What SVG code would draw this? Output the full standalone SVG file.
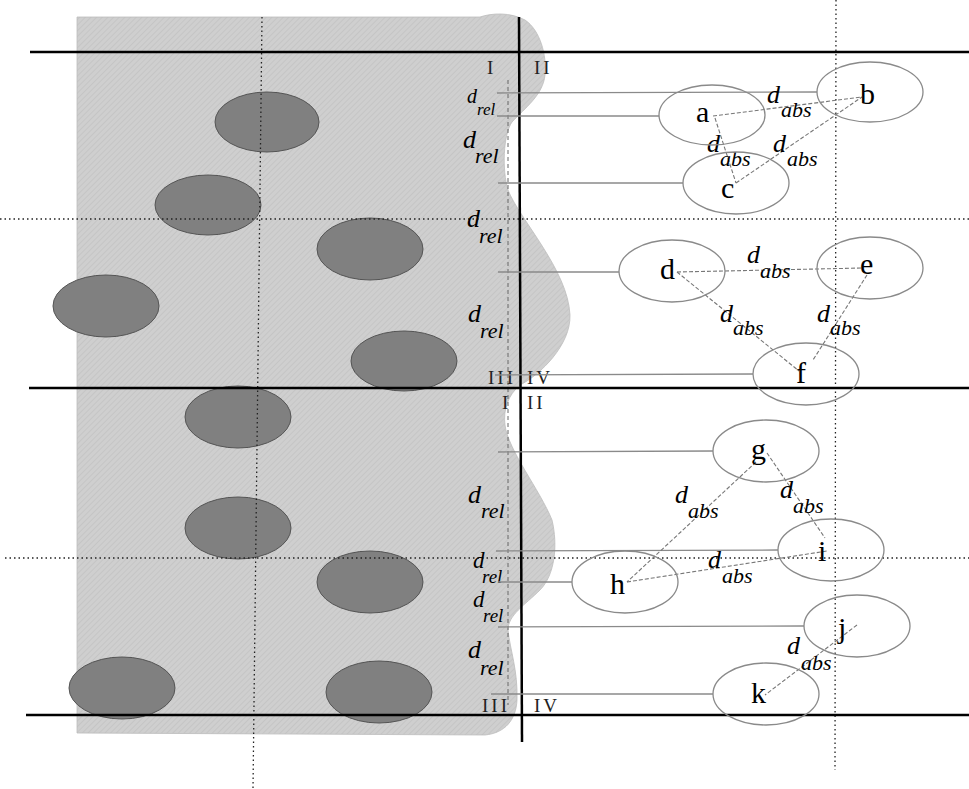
<svg xmlns="http://www.w3.org/2000/svg" width="969" height="789" viewBox="0 0 969 789">
<defs>
<pattern id="hatch" width="4" height="4" patternUnits="userSpaceOnUse" patternTransform="rotate(45)">
<rect width="4" height="4" fill="#cfcfcf"/>
<line x1="0" y1="0" x2="0" y2="4" stroke="#bdbdbd" stroke-width="1.1"/>
</pattern>
</defs>
<style>
.thick{stroke:#000;stroke-width:2.5;fill:none}
.dot{stroke:#222;stroke-width:1.3;stroke-dasharray:1.5 3;fill:none}
.lead{stroke:#8a8a8a;stroke-width:1.3;fill:none}
.vdash{stroke:#666;stroke-width:1;stroke-dasharray:4 3;fill:none}
.grain{fill:#808080;stroke:#555;stroke-width:1}
.node ellipse{fill:none;stroke:#8a8a8a;stroke-width:1.3}
.node text{font-family:"Liberation Serif","DejaVu Serif",serif;font-size:30px;fill:#000}
.dist{stroke:#777;stroke-width:1.1;stroke-dasharray:4 2;fill:none}
.lab{font-family:"Liberation Serif","DejaVu Serif",serif;font-style:italic;fill:#000}
.d{font-size:26px}
.s{font-size:22px}
.rom{font-family:"Liberation Serif","DejaVu Serif",serif;font-size:19px;fill:#222;letter-spacing:3px}
</style>

<g id="background">
<path d="M77 17 L480 17 C492 13 510 12 525 20 C540 30 547 55 545 75 C543 95 525 108 512 122 C503 135 502 170 508 190 C520 220 568 270 570 315 C571 345 540 375 520 385 C508 395 503 410 505 425 C508 450 540 490 552 520 C558 545 555 575 540 590 C525 605 508 615 508 630 C510 650 518 670 517 700 C516 720 505 733 485 735 L77 733 Z" fill="url(#hatch)" stroke="#bdbdbd" stroke-width="0.8"/>
<ellipse class="grain" cx="267" cy="122" rx="52" ry="30"/>
<ellipse class="grain" cx="208" cy="205" rx="53" ry="30"/>
<ellipse class="grain" cx="370" cy="249" rx="53" ry="31"/>
<ellipse class="grain" cx="106" cy="306" rx="53" ry="31"/>
<ellipse class="grain" cx="404" cy="361" rx="53" ry="30"/>
<ellipse class="grain" cx="238" cy="417" rx="53" ry="31"/>
<ellipse class="grain" cx="238" cy="528" rx="53" ry="31"/>
<ellipse class="grain" cx="370" cy="582" rx="53" ry="31"/>
<ellipse class="grain" cx="122" cy="688" rx="53" ry="31"/>
<ellipse class="grain" cx="379" cy="692" rx="53" ry="31"/>
<line class="dot" x1="262" y1="17" x2="253" y2="789"/>
<line class="dot" x1="836" y1="0" x2="835" y2="770"/>
<line class="dot" x1="0" y1="219" x2="969" y2="219"/>
<line class="dot" x1="5" y1="558" x2="969" y2="558"/>
<line class="vdash" x1="508" y1="80" x2="508" y2="705"/>
<line class="thick" x1="30" y1="52" x2="969" y2="52"/>
<line class="thick" x1="29" y1="388" x2="969" y2="388"/>
<line class="thick" x1="26" y1="715" x2="969" y2="715"/>
<line class="thick" x1="519" y1="17" x2="522" y2="742"/>
<text class="rom" x="487" y="74">I</text>
<text class="rom" x="534" y="74">II</text>
<text class="rom" x="488" y="384">III</text>
<text class="rom" x="527" y="384">IV</text>
<text class="rom" x="502" y="409">I</text>
<text class="rom" x="527" y="409">II</text>
<text class="rom" x="482" y="712">III</text>
<text class="rom" x="534" y="712">IV</text>
<text class="lab" x="467" y="103" font-size="20">d</text><text class="lab" x="477" y="115" font-size="17">rel</text>
<text class="lab d" x="463" y="148">d</text><text class="lab s" x="475" y="163">rel</text>
<text class="lab d" x="467" y="227">d</text><text class="lab s" x="479" y="243">rel</text>
<text class="lab d" x="468" y="322">d</text><text class="lab s" x="480" y="338">rel</text>
<text class="lab d" x="468" y="503">d</text><text class="lab s" x="481" y="518">rel</text>
<text class="lab" x="473" y="568" font-size="23">d</text><text class="lab" x="482" y="583" font-size="19">rel</text>
<text class="lab" x="473" y="607" font-size="23">d</text><text class="lab" x="483" y="622" font-size="19">rel</text>
<text class="lab d" x="468" y="658">d</text><text class="lab s" x="480" y="675">rel</text>
</g>

<g id="connectors">
<line class="lead" x1="497" y1="93" x2="817" y2="92"/>
<line class="lead" x1="497" y1="116" x2="659" y2="116"/>
<line class="lead" x1="498" y1="183" x2="683" y2="183"/>
<line class="lead" x1="498" y1="272" x2="619" y2="272"/>
<line class="lead" x1="495" y1="375" x2="753" y2="374"/>
<line class="lead" x1="498" y1="452" x2="713" y2="451"/>
<line class="lead" x1="496" y1="551" x2="778" y2="550"/>
<line class="lead" x1="498" y1="582" x2="572" y2="582"/>
<line class="lead" x1="498" y1="627" x2="804" y2="626"/>
<line class="lead" x1="491" y1="694" x2="713" y2="694"/>
<line class="dist" x1="713" y1="116" x2="862" y2="97"/>
<line class="dist" x1="715" y1="118" x2="736" y2="183"/>
<line class="dist" x1="736" y1="183" x2="862" y2="97"/>
<line class="dist" x1="677" y1="272" x2="863" y2="268"/>
<line class="dist" x1="677" y1="272" x2="799" y2="371"/>
<line class="dist" x1="867" y1="275" x2="813" y2="360"/>
<line class="dist" x1="756" y1="462" x2="627" y2="582"/>
<line class="dist" x1="767" y1="453" x2="825" y2="538"/>
<line class="dist" x1="627" y1="582" x2="827" y2="551"/>
<line class="dist" x1="857" y1="625" x2="765" y2="695"/>
<text class="lab d" x="767" y="103">d</text><text class="lab s" x="781" y="117">abs</text>
<text class="lab d" x="707" y="152">d</text><text class="lab s" x="720" y="166">abs</text>
<text class="lab d" x="773" y="152">d</text><text class="lab s" x="787" y="166">abs</text>
<text class="lab d" x="747" y="263">d</text><text class="lab s" x="760" y="278">abs</text>
<text class="lab d" x="720" y="322">d</text><text class="lab s" x="733" y="335">abs</text>
<text class="lab d" x="817" y="322">d</text><text class="lab s" x="830" y="335">abs</text>
<text class="lab d" x="675" y="503">d</text><text class="lab s" x="688" y="518">abs</text>
<text class="lab d" x="780" y="498">d</text><text class="lab s" x="793" y="513">abs</text>
<text class="lab d" x="708" y="568">d</text><text class="lab s" x="722" y="583">abs</text>
<text class="lab d" x="787" y="654">d</text><text class="lab s" x="801" y="670">abs</text>
</g>

<g id="node-a" class="node"><ellipse cx="712" cy="115" rx="53" ry="30"/><text x="696" y="122">a</text></g>
<g id="node-b" class="node"><ellipse cx="870" cy="92" rx="53" ry="30"/><text x="860" y="104">b</text></g>
<g id="node-c" class="node"><ellipse cx="736" cy="183" rx="53" ry="31"/><text x="721" y="198">c</text></g>
<g id="node-d" class="node"><ellipse cx="672" cy="271" rx="53" ry="31"/><text x="660" y="279">d</text></g>
<g id="node-e" class="node"><ellipse cx="870" cy="268" rx="53" ry="31"/><text x="860" y="274">e</text></g>
<g id="node-f" class="node"><ellipse cx="806" cy="374" rx="53" ry="31"/><text x="796" y="383">f</text></g>
<g id="node-g" class="node"><ellipse cx="766" cy="451" rx="53" ry="31"/><text x="751" y="459">g</text></g>
<g id="node-h" class="node"><ellipse cx="625" cy="582" rx="53" ry="31"/><text x="610" y="594">h</text></g>
<g id="node-i" class="node"><ellipse cx="831" cy="550" rx="53" ry="31"/><text x="818" y="561">i</text></g>
<g id="node-j" class="node"><ellipse cx="857" cy="626" rx="53" ry="31"/><text x="838" y="638">j</text></g>
<g id="node-k" class="node"><ellipse cx="766" cy="694" rx="53" ry="31"/><text x="751" y="703">k</text></g>
</svg>
